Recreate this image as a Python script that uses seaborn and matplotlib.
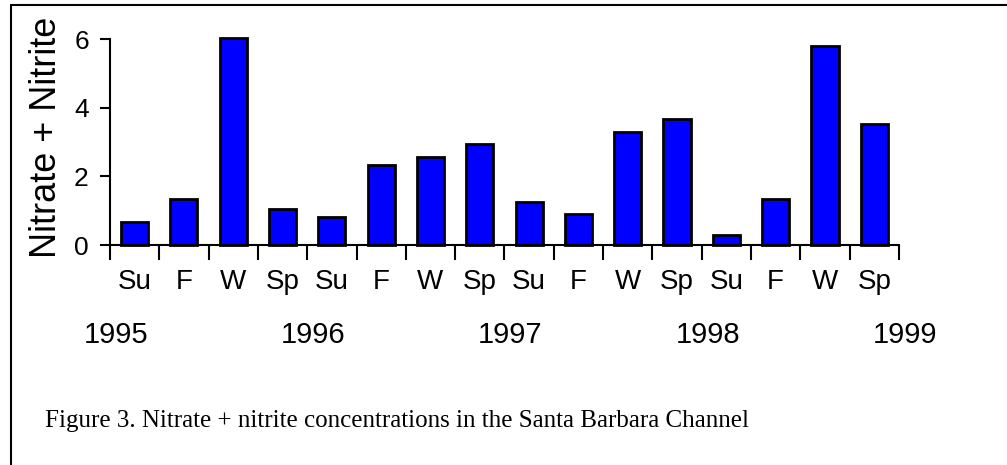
import pandas as pd
import matplotlib.pyplot as plt
import seaborn as sns

# Data
periods = ['Su95', 'F95', 'W96', 'Sp96', 'Su96', 'F96', 'W97', 'Sp97',
           'Su97', 'F97', 'W98', 'Sp98', 'Su98', 'F98', 'W99', 'Sp99']
seasons = ['Su', 'F', 'W', 'Sp', 'Su', 'F', 'W', 'Sp',
           'Su', 'F', 'W', 'Sp', 'Su', 'F', 'W', 'Sp']
nitrate = [0.68, 1.34, 6.03, 1.04, 0.82, 2.34, 2.56, 2.94,
           1.26, 0.90, 3.31, 3.68, 0.28, 1.33, 5.81, 3.53]
years = ['1995', '1996', '1997', '1998', '1999']

df = pd.DataFrame({'period': periods, 'nitrate': nitrate})

sns.set_style('ticks')
plt.rcParams['font.family'] = ['Liberation Sans', 'DejaVu Sans']
plt.rcParams['text.color'] = 'black'
plt.rcParams['xtick.color'] = 'black'
plt.rcParams['ytick.color'] = 'black'

fig = plt.figure(figsize=(10.07, 4.65), dpi=100)
ax = fig.add_axes([0.1092, 0.4731, 0.7835, 0.4420])

sns.barplot(data=df, x='period', y='nitrate', order=periods, color='#0000FF',
            saturation=1, width=0.55, edgecolor='black', linewidth=2, ax=ax)
for p in ax.patches:
    p.set_clip_on(False)

ax.set_xlim(-0.5, len(periods) - 0.5)
ax.set_ylim(0, 6)
ax.set_yticks([0, 2, 4, 6])
ax.set_xticks(range(len(periods)))
ax.set_xticklabels(seasons, fontsize=20)
ax.set_xticks([i - 0.5 for i in range(len(periods) + 1)], minor=True)
ax.tick_params(axis='x', which='major', length=0, pad=17)
ax.tick_params(axis='x', which='minor', length=10.8, width=1.5, direction='out')
ax.tick_params(axis='y', length=7.2, width=1.5, direction='out', labelsize=19, pad=8)
ax.set_xlabel('')
ax.set_ylabel('')

sns.despine(ax=ax)
for side in ['left', 'bottom']:
    ax.spines[side].set_linewidth(1.5)
    ax.spines[side].set_color('black')

# year labels under every fourth boundary
for k, yr in enumerate(years):
    ax.text(4 * k - 0.5 + 0.12, -0.44, yr, transform=ax.get_xaxis_transform(),
            ha='center', va='center', fontsize=21)

fig.text(47 / 1007, 1 - 137 / 465, 'Nitrate + Nitrite', rotation=90,
         ha='center', va='center', fontsize=26)

fig.text(45 / 1007, 1 - 427 / 465,
         'Figure 3. Nitrate + nitrite concentrations in the Santa Barbara Channel',
         ha='left', va='baseline', fontsize=18, family=['Liberation Serif', 'DejaVu Serif'])

# page frame
fig.add_artist(plt.Line2D([11 / 1007, 11 / 1007], [0, 1 - 5 / 465], color='black', lw=1.5))
fig.add_artist(plt.Line2D([11 / 1007, 1], [1 - 5 / 465, 1 - 5 / 465], color='black', lw=1.5))

fig.savefig('out.png', dpi=100)
